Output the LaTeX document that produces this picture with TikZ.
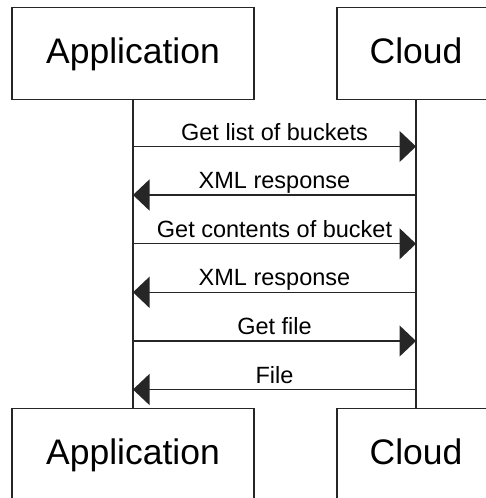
\documentclass[tikz,border=0pt]{standalone}
\usepackage{fontspec}
\setmainfont{Liberation Sans}
\usetikzlibrary{arrows.meta}
\tikzset{
  actor/.style={draw=black!85, line width=1.3pt, fill=white,
    minimum width=242pt, minimum height=92pt, inner sep=0pt,
    text height=25pt, text depth=5pt,
    font=\fontsize{35.5}{40}\selectfont},
  lifeline/.style={draw=black!85, line width=1.3pt},
  msg/.style={draw=black!85, line width=1.3pt,
    -{Triangle[length=16.5pt, width=31pt]}},
  lbl/.style={anchor=base, yshift=6.5pt, inner sep=0pt,
    font=\fontsize{23.5}{27}\selectfont}
}
\begin{document}
\begin{tikzpicture}[x=1pt, y=-1pt]
  \useasboundingbox (0,0) rectangle (486,498);
  \clip (0,0) rectangle (486,498);
  \fill[white] (0,0) rectangle (486,498);

  % participants, top and bottom
  \node[actor] (appTop) at (133,53.2) {Application};
  \node[actor, minimum width=158pt] (cloudTop) at (416,53.2) {Cloud};
  \node[actor] (appBot) at (133,454.2) {Application};
  \node[actor, minimum width=158pt] (cloudBot) at (416,454.2) {Cloud};

  % lifelines
  \draw[lifeline] (appTop.south) -- (appBot.north);
  \draw[lifeline] (cloudTop.south) -- (cloudBot.north);

  % message end points on the lifelines
  \foreach \i/\y in {1/146.5, 2/195, 3/243.8, 4/292.3, 5/341, 6/389.5} {
    \coordinate (a\i) at (133,\y);
    \coordinate (c\i) at (416,\y);
  }

  % messages
  \draw[msg] (a1) -- node[lbl] {Get list of buckets} (c1);
  \draw[msg] (c2) -- node[lbl] {XML response} (a2);
  \draw[msg] (a3) -- node[lbl] {Get contents of bucket} (c3);
  \draw[msg] (c4) -- node[lbl] {XML response} (a4);
  \draw[msg] (a5) -- node[lbl] {Get file} (c5);
  \draw[msg] (c6) -- node[lbl] {File} (a6);
\end{tikzpicture}
\end{document}
